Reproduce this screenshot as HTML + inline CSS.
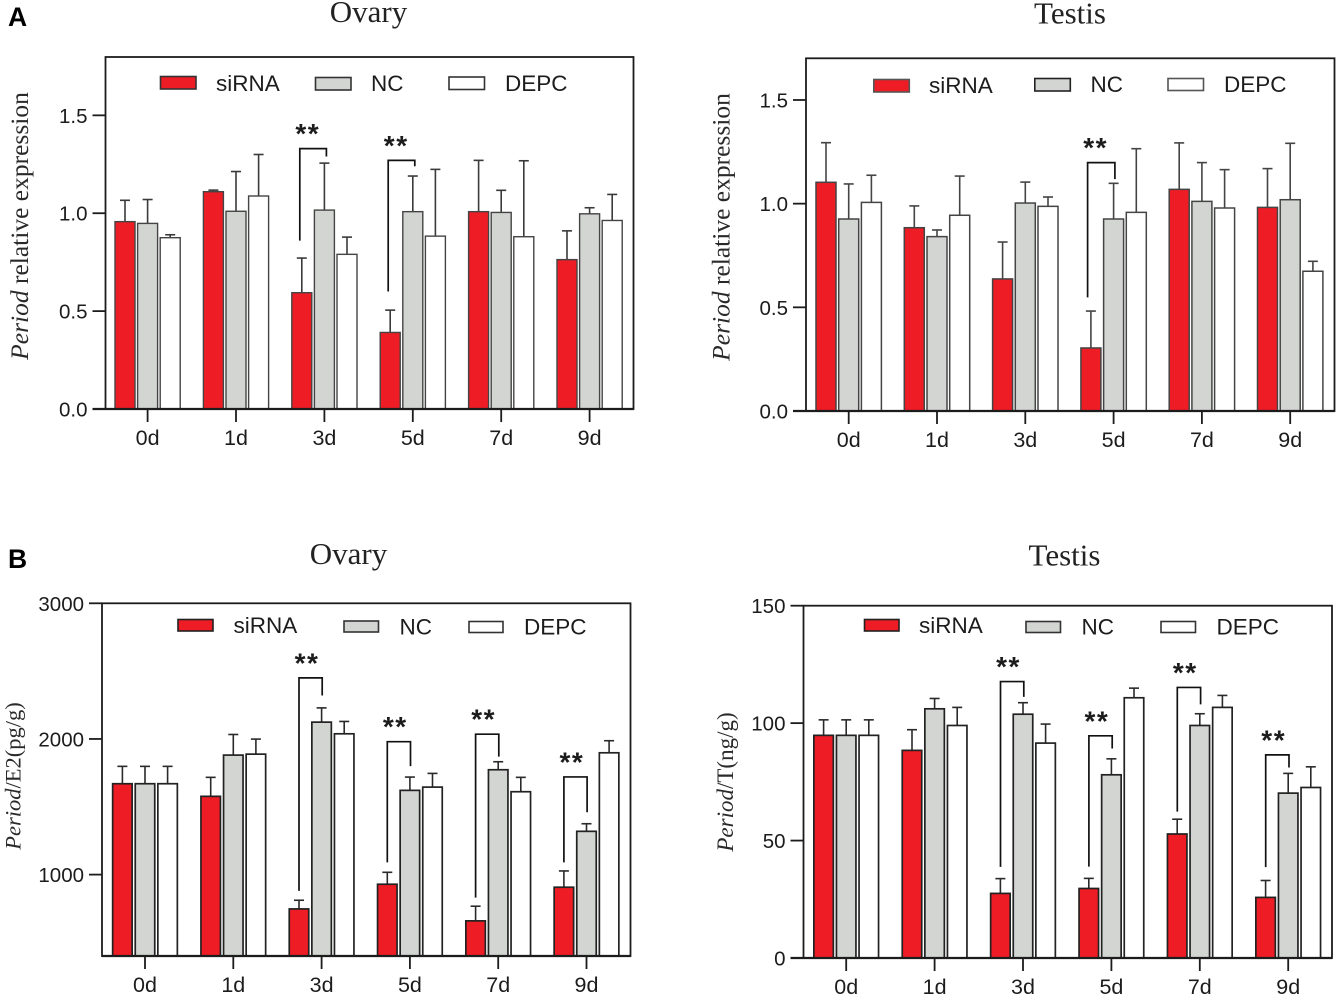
<!DOCTYPE html>
<html lang="en">
<head>
<meta charset="utf-8">
<title>Period relative expression and hormone levels</title>
<style>
  html, body { margin: 0; padding: 0; background: #fff; }
  svg { display: block; }
  text { font-family: "Liberation Sans", sans-serif; fill: #1c1c1c; }
  .title { font-family: "Liberation Serif", serif; font-size: 31px; text-anchor: middle; fill: #222; }
  .ylab { font-family: "Liberation Serif", serif; fill: #2a2a2a; text-anchor: middle; }
  .panel { font-weight: bold; font-size: 26.5px; fill: #000; }
  .leg { font-size: 22.5px; }
  .frame { fill: none; stroke: #1c1c1c; stroke-width: 1.8; }
</style>
</head>
<body>
<svg id="figure" xmlns="http://www.w3.org/2000/svg" width="1336" height="995" viewBox="0 0 1336 995">
  <rect x="0" y="0" width="1336" height="995" fill="#fff"/>
  <text class="panel" x="8" y="26">A</text>
  <text class="panel" x="8" y="568">B</text>

  <g id="chart-a-ovary">
    <text class="title" x="368.5" y="22">Ovary</text>
    <text class="ylab" font-size="25.5" transform="translate(28 226) rotate(-90)"><tspan font-style="italic">Period</tspan> relative expression</text>
    <g>
      <rect x="160.5" y="76.5" width="35.5" height="12.5" fill="#ee1c25" stroke="#333" stroke-width="1.6"/>
      <text class="leg" x="216" y="91">siRNA</text>
      <rect x="315.5" y="77.5" width="35.5" height="12.5" fill="#d3d5d3" stroke="#333" stroke-width="1.6"/>
      <text class="leg" x="371" y="91">NC</text>
      <rect x="449" y="77" width="35.5" height="12.5" fill="#fff" stroke="#333" stroke-width="1.6"/>
      <text class="leg" x="505" y="91">DEPC</text>
    </g>
  </g>

  <g id="chart-a-testis">
    <text class="title" x="1070" y="23.5">Testis</text>
    <text class="ylab" font-size="25.5" transform="translate(729.5 227) rotate(-90)"><tspan font-style="italic">Period</tspan> relative expression</text>
    <g>
      <rect x="873.8" y="79.5" width="35.5" height="12.5" fill="#ee1c25" stroke="#555" stroke-width="1.6"/>
      <text class="leg" x="929" y="93">siRNA</text>
      <rect x="1034.8" y="78.5" width="35.5" height="12.5" fill="#d3d5d3" stroke="#222" stroke-width="1.6"/>
      <text class="leg" x="1090.5" y="92">NC</text>
      <rect x="1168" y="78.5" width="35.5" height="12" fill="#fff" stroke="#555" stroke-width="1.6"/>
      <text class="leg" x="1224" y="92">DEPC</text>
    </g>
  </g>

  <g id="chart-b-ovary">
    <text class="title" x="348.5" y="564">Ovary</text>
    <text class="ylab" font-size="22.5" transform="translate(20.5 776) rotate(-90)"><tspan font-style="italic">Period</tspan>/E2(pg/g)</text>
    <g>
      <rect x="178" y="619.5" width="35" height="11.5" fill="#ee1c25" stroke="#222" stroke-width="1.6"/>
      <text class="leg" x="233.5" y="633">siRNA</text>
      <rect x="344" y="621" width="34.5" height="11" fill="#d3d5d3" stroke="#333" stroke-width="1.6"/>
      <text class="leg" x="399.5" y="634.5">NC</text>
      <rect x="469" y="621.5" width="34" height="11" fill="#fff" stroke="#333" stroke-width="1.6"/>
      <text class="leg" x="524" y="634.5">DEPC</text>
    </g>
  </g>

  <g id="chart-b-testis">
    <text class="title" x="1064.5" y="565.5">Testis</text>
    <text class="ylab" font-size="23" transform="translate(732.8 782) rotate(-90)"><tspan font-style="italic">Period</tspan>/T(ng/g)</text>
    <g>
      <rect x="864.5" y="619.5" width="34.5" height="11.5" fill="#ee1c25" stroke="#222" stroke-width="1.6"/>
      <text class="leg" x="919" y="633">siRNA</text>
      <rect x="1026" y="621.5" width="34.5" height="11" fill="#d3d5d3" stroke="#333" stroke-width="1.6"/>
      <text class="leg" x="1081.5" y="634.5">NC</text>
      <rect x="1161" y="621.5" width="34.5" height="11" fill="#fff" stroke="#333" stroke-width="1.6"/>
      <text class="leg" x="1216.5" y="634.5">DEPC</text>
    </g>
  </g>
</svg>

<script>
// Shared categories
const days = ['0d', '1d', '3d', '5d', '7d', '9d'];
const seriesNames = ['siRNA', 'NC', 'DEPC'];

// Panel A, ovary: mean values and upper error limits
const ovaryExprTicks = [0, 0.5, 1, 1.5];
const ovaryExprTickLabels = ['0.0', '0.5', '1.0', '1.5'];
const ovaryExprSirna = [0.957, 1.11, 0.594, 0.391, 1.008, 0.763];
const ovaryExprNc = [0.948, 1.01, 1.016, 1.008, 1.004, 0.997];
const ovaryExprDepc = [0.875, 1.088, 0.79, 0.883, 0.88, 0.963];
const ovaryExprSirnaUpper = [1.066, 1.118, 0.771, 0.505, 1.27, 0.91];
const ovaryExprNcUpper = [1.07, 1.213, 1.256, 1.19, 1.117, 1.028];
const ovaryExprDepcUpper = [0.89, 1.30, 0.878, 1.224, 1.268, 1.096];
const ovaryExprSigDays = ['3d', '5d'];
const ovaryExprSigTop = [1.33, 1.27];
const ovaryExprSigLeftEnd = [0.86, 0.60];
const ovaryExprSigRightEnd = [1.29, 1.24];

// Panel A, testis
const testisExprTicks = [0, 0.5, 1, 1.5];
const testisExprTickLabels = ['0.0', '0.5', '1.0', '1.5'];
const testisExprSirna = [1.103, 0.884, 0.637, 0.304, 1.069, 0.982];
const testisExprNc = [0.926, 0.841, 1.003, 0.926, 1.011, 1.019];
const testisExprDepc = [1.006, 0.944, 0.987, 0.958, 0.979, 0.674];
const testisExprSirnaUpper = [1.294, 0.989, 0.815, 0.482, 1.293, 1.169];
const testisExprNcUpper = [1.095, 0.873, 1.104, 1.098, 1.198, 1.291];
const testisExprDepcUpper = [1.137, 1.133, 1.032, 1.265, 1.164, 0.722];
const testisExprSigDays = ['5d'];
const testisExprSigTop = [1.198];
const testisExprSigLeftEnd = [0.548];
const testisExprSigRightEnd = [1.118];

// Panel B, ovary E2
const ovaryE2Ticks = [1000, 2000, 3000];
const ovaryE2TickLabels = ['1000', '2000', '3000'];
const ovaryE2Sirna = [1670, 1577, 747, 929, 659, 907];
const ovaryE2Nc = [1670, 1881, 2124, 1621, 1773, 1319];
const ovaryE2Depc = [1670, 1888, 2038, 1645, 1611, 1898];
const ovaryE2SirnaUpper = [1798, 1717, 811, 1017, 767, 1027];
const ovaryE2NcUpper = [1798, 2033, 2229, 1719, 1832, 1375];
const ovaryE2DepcUpper = [1798, 1999, 2129, 1746, 1717, 1987];
const ovaryE2SigDays = ['3d', '5d', '7d', '9d'];
const ovaryE2SigTop = [2450, 1980, 2035, 1720];
const ovaryE2SigLeftEnd = [880, 1090, 830, 1090];
const ovaryE2SigRightEnd = [2320, 1800, 1870, 1460];

// Panel B, testis T
const testisTTicks = [0, 50, 100, 150];
const testisTTickLabels = ['0', '50', '100', '150'];
const testisTSirna = [94.8, 88.4, 27.5, 29.6, 52.8, 25.8];
const testisTNc = [94.8, 106.1, 103.8, 78, 99, 70.2];
const testisTDepc = [94.8, 99, 91.5, 110.8, 106.7, 72.6];
const testisTSirnaUpper = [101.4, 97.2, 33.8, 33.9, 59.1, 33];
const testisTNcUpper = [101.4, 110.5, 108.7, 84.8, 104, 78.6];
const testisTDepcUpper = [101.4, 106.7, 99.6, 114.9, 111.8, 81.4];
const testisTSigDays = ['3d', '5d', '7d', '9d'];
const testisTSigTop = [117.7, 94.6, 115.2, 86.5];
const testisTSigLeftEnd = [38.8, 38.9, 62.3, 38.7];
const testisTSigRightEnd = [111.2, 89.2, 108, 81.1];

const SVG_NS = 'http://www.w3.org/2000/svg';
const barColors = ['#ee1c25', '#d3d5d3', '#ffffff'];

function mk(parent, tag, attrs) {
  const el = document.createElementNS(SVG_NS, tag);
  for (const k in attrs) el.setAttribute(k, attrs[k]);
  parent.appendChild(el);
  return el;
}

function slug(s) { return String(s).toLowerCase().replace(/[^a-z0-9]+/g, '-'); }

function drawChart(c) {
  const root = document.getElementById(c.id);
  const y = v => c.base - (v - c.yMin) * (c.base - c.top) / (c.yMax - c.yMin);
  const x = i => c.x0 + i * c.xStep;

  // bars and error bars
  c.means.forEach((series, s) => {
    series.forEach((v, i) => {
      const cx = x(i) + (s - 1) * c.barStep;
      const errTop = y(c.uppers[s][i]);

      const stem = mk(root, 'line', { x1: cx, x2: cx, y1: y(v), y2: errTop, stroke: c.errColor, 'stroke-width': 1.6 });
      
      

      const cap = mk(root, 'line', { x1: cx - 5, x2: cx + 5, y1: errTop, y2: errTop, stroke: c.errColor, 'stroke-width': 1.6 });
      
      

      const bar = mk(root, 'rect', { x: cx - c.barW / 2, y: y(v), width: c.barW, height: c.base - y(v), fill: barColors[s], stroke: c.barStroke, 'stroke-width': c.barStrokeW });
      
      
    });
  });

  // plot frame
  const frame = mk(root, 'rect', { class: 'frame', x: c.left, y: c.top, width: c.right - c.left, height: c.base - c.top });
  
  

  const baseline = mk(root, 'line', { x1: c.left - c.baselineExtend, x2: c.right, y1: c.base, y2: c.base, stroke: '#1c1c1c', 'stroke-width': 2.2 });
  
  

  // y ticks
  c.ticks.forEach((t, i) => {
    const ty = y(t);
    const mark = mk(root, 'line', { x1: c.left - 13, x2: c.left, y1: ty, y2: ty, stroke: '#1c1c1c', 'stroke-width': 1.8 });
    
    

    const label = mk(root, 'text', { x: c.left - 18, y: ty + c.yLabelDy, 'text-anchor': 'end', 'font-size': 20.5 });
    
    
    label.textContent = c.tickLabels[i];
  });

  // x ticks
  days.forEach((d, i) => {
    const mark = mk(root, 'line', { x1: x(i), x2: x(i), y1: c.base, y2: c.base + 13, stroke: '#1c1c1c', 'stroke-width': 1.8 });
    
    

    const label = mk(root, 'text', { x: x(i), y: c.base + 36, 'text-anchor': 'middle', 'font-size': 21.5 });
    
    
    label.textContent = d;
  });

  // significance brackets
  c.sigDays.forEach((d, i) => {
    const cx = x(days.indexOf(d));
    const lx = cx - c.sigLeft;
    const rx = cx + c.sigRight;
    const topY = y(c.sigTop[i]);
    const path = mk(root, 'polyline', {
      points: lx + ',' + y(c.sigLeftEnd[i]) + ' ' + lx + ',' + topY + ' ' + rx + ',' + topY + ' ' + rx + ',' + y(c.sigRightEnd[i]),
      fill: 'none', stroke: '#111', 'stroke-width': 1.7
    });
    
    

    const stars = mk(root, 'text', { x: lx + 8, y: topY - 5.5, 'text-anchor': 'middle', 'font-size': 28, 'font-weight': 'bold', 'letter-spacing': '1.5', fill: '#000' });
    
    
    stars.textContent = '**';
  });
}

drawChart({
  id: 'chart-a-ovary', left: 105.5, right: 633.5, top: 57, base: 409, yMin: 0, yMax: 1.798,
  x0: 147.6, xStep: 88.4, barW: 20, barStep: 22.6, barStroke: '#444', barStrokeW: 1.4, errColor: '#3a3a3a',
  baselineExtend: 13,
  yLabelDy: 7.5, ticks: ovaryExprTicks, tickLabels: ovaryExprTickLabels,
  means: [ovaryExprSirna, ovaryExprNc, ovaryExprDepc],
  uppers: [ovaryExprSirnaUpper, ovaryExprNcUpper, ovaryExprDepcUpper],
  sigDays: ovaryExprSigDays, sigTop: ovaryExprSigTop, sigLeftEnd: ovaryExprSigLeftEnd, sigRightEnd: ovaryExprSigRightEnd,
  sigLeft: 24.6, sigRight: 2
});

drawChart({
  id: 'chart-a-testis', left: 806, right: 1334.5, top: 58.3, base: 411, yMin: 0, yMax: 1.701,
  x0: 848.7, xStep: 88.3, barW: 20, barStep: 22.7, barStroke: '#444', barStrokeW: 1.5, errColor: '#444',
  baselineExtend: 13,
  yLabelDy: 7.5, ticks: testisExprTicks, tickLabels: testisExprTickLabels,
  means: [testisExprSirna, testisExprNc, testisExprDepc],
  uppers: [testisExprSirnaUpper, testisExprNcUpper, testisExprDepcUpper],
  sigDays: testisExprSigDays, sigTop: testisExprSigTop, sigLeftEnd: testisExprSigLeftEnd, sigRightEnd: testisExprSigRightEnd,
  sigLeft: 26, sigRight: 1.3
});

drawChart({
  id: 'chart-b-ovary', left: 102, right: 630.5, top: 603.3, base: 956, yMin: 400, yMax: 3000,
  x0: 145, xStep: 88.3, barW: 19.5, barStep: 22.6, barStroke: '#222', barStrokeW: 1.7, errColor: '#2a2a2a',
  baselineExtend: 0,
  yLabelDy: 7.5, ticks: ovaryE2Ticks, tickLabels: ovaryE2TickLabels,
  means: [ovaryE2Sirna, ovaryE2Nc, ovaryE2Depc],
  uppers: [ovaryE2SirnaUpper, ovaryE2NcUpper, ovaryE2DepcUpper],
  sigDays: ovaryE2SigDays, sigTop: ovaryE2SigTop, sigLeftEnd: ovaryE2SigLeftEnd, sigRightEnd: ovaryE2SigRightEnd,
  sigLeft: 22.6, sigRight: 0.6
});

drawChart({
  id: 'chart-b-testis', left: 803.5, right: 1332, top: 605.7, base: 958, yMin: 0, yMax: 150,
  x0: 846.2, xStep: 88.4, barW: 19.5, barStep: 22.6, barStroke: '#222', barStrokeW: 1.7, errColor: '#2a2a2a',
  baselineExtend: 13,
  yLabelDy: 7.5, ticks: testisTTicks, tickLabels: testisTTickLabels,
  means: [testisTSirna, testisTNc, testisTDepc],
  uppers: [testisTSirnaUpper, testisTNcUpper, testisTDepcUpper],
  sigDays: testisTSigDays, sigTop: testisTSigTop, sigLeftEnd: testisTSigLeftEnd, sigRightEnd: testisTSigRightEnd,
  sigLeft: 22.5, sigRight: 0.8
});
</script>
</body>
</html>
